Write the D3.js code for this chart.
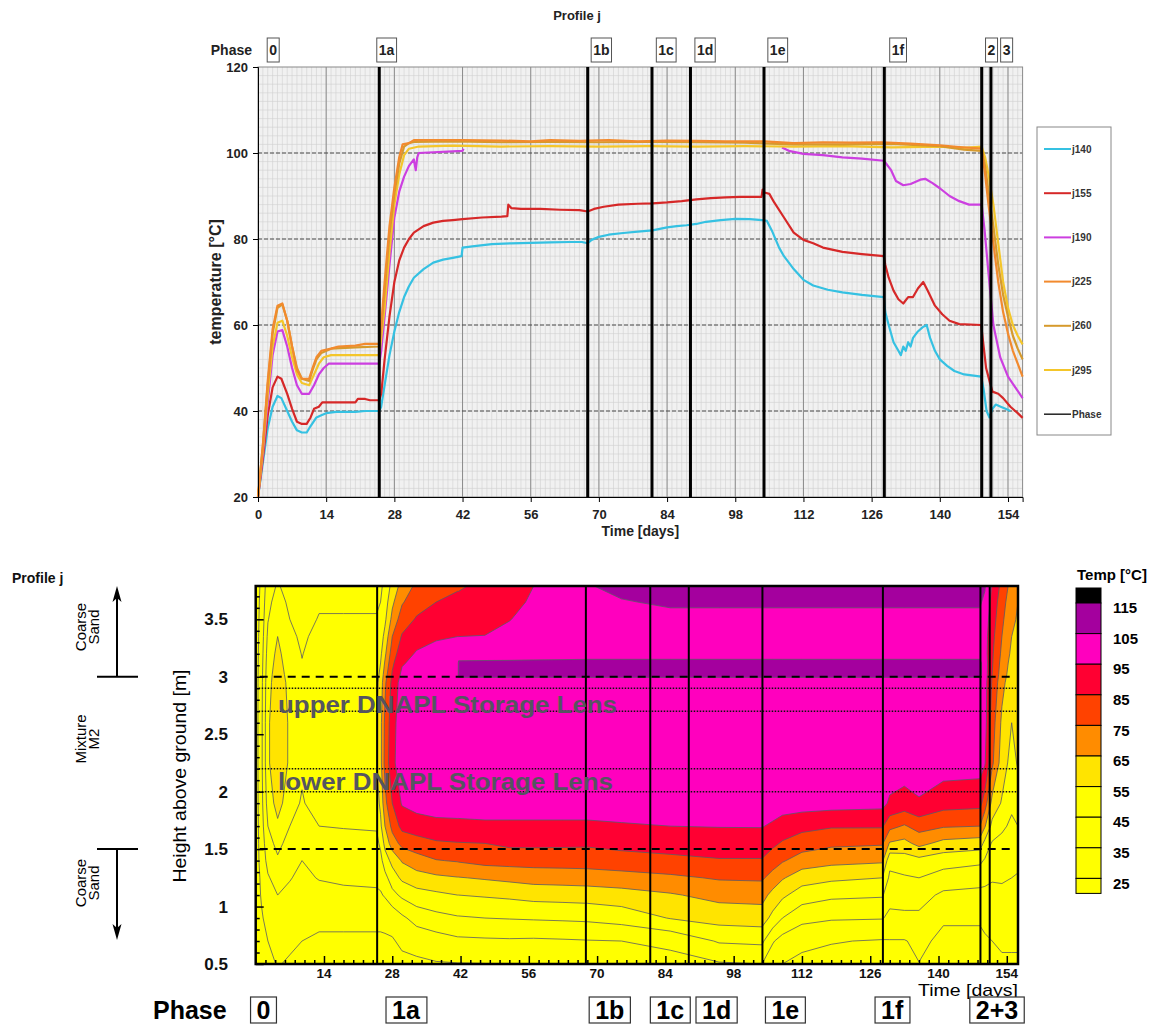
<!DOCTYPE html>
<html><head><meta charset="utf-8">
<script src="https://cdn.jsdelivr.net/npm/d3@7"></script>
<style>body{margin:0;background:#fff}svg{display:block}</style>
</head><body><svg id="c" width="1160" height="1024"></svg>
<script>
// ---------------- DATA ----------------
const phaseNames = ["0","1a","1b","1c","1d","1e","1f","2","3"];
const phaseDays = [0, 24.9, 67.7, 80.9, 88.8, 103.9, 128.6, 148.6, 150.5];
const topPhaseLabelDays = [3.1, 26.4, 70.5, 83.8, 91.8, 106.7, 131.4, 150.6, 153.7];
const bottomPhaseNames = ["0","1a","1b","1c","1d","1e","1f","2+3"];
const bottomPhaseLabelDays = [1.6, 30.8, 72.6, 85, 94.5, 108.6, 130.5, 152];

const timeTicks = [0,14,28,42,56,70,84,98,112,126,140,154];
const tempTicks = [20,40,60,80,100,120];
const heightTicks = [0.5,1,1.5,2,2.5,3,3.5];

const seriesNames = ["j140","j155","j190","j225","j260","j295"];
const j140 = [[0,20],[1,28],[2,36],[3,41],[4,43.5],[4.8,43],[6,40],[7,37.5],[8,35.5],[9,35],[10,35],[10.8,36.5],[12,38.5],[13,39],[14,39.5],[16,39.8],[20,39.8],[22,40],[24.9,40],[25.3,41],[26,46],[27,53],[28,58.5],[29,63],[30,66.5],[31,69],[32,71],[34,73],[36,74.5],[38,75.2],[40,75.6],[41.8,76],[42,78],[44,78.3],[48,78.8],[52,79],[56,79.1],[60,79.2],[64,79.3],[66.5,79.3],[67.7,79],[68.5,79.8],[70,80.5],[72,81],[75,81.4],[78,81.7],[81,82],[84,82.7],[86,83],[88,83.2],[90,83.5],[92,84],[95,84.4],[98,84.7],[101,84.6],[103.5,84.4],[104.5,84.2],[105.5,82],[107,78],[108,76],[110,73],[112,70.5],[114,69.2],[117,68.2],[120,67.6],[124,67],[128.5,66.5],[128.8,63],[129.5,60],[130.5,56],[131.5,54],[132,53],[132.5,55],[133,54],[133.5,56],[134,55],[134.5,57],[135.5,58.5],[136.5,59.5],[137.3,60],[138,57],[139,54],[140,52],[141.5,50.5],[143,49.3],[145,48.5],[148.5,48],[149,45],[149.6,40],[150.2,38.5],[150.8,40.5],[151.5,41.5],[152.5,41],[153.5,40.5],[154.5,40]];
const j155 = [[0,20],[1,29],[2,39],[3,45.5],[4,48],[4.8,47.5],[6,44],[7,40.5],[8,37.5],[9,37],[10,37],[10.8,38.5],[11.5,40.5],[12.5,41],[13.2,42],[16,42],[20,42],[20.5,42.8],[22,42.8],[23,42.5],[24.9,42.5],[25.3,44],[26,52],[27,62],[28,70],[29,75],[30,78],[31,80],[32,81.5],[34,83],[36,83.8],[38,84.2],[40,84.4],[42,84.6],[46,85],[50,85.2],[51.2,85.3],[51.4,88],[52,87.2],[54,87],[58,87],[62,86.8],[66,86.7],[67.7,86.4],[69,87],[71,87.5],[74,88],[78,88.2],[81,88.3],[84,88.5],[87,88.8],[90,89.2],[93,89.5],[96,89.7],[99,89.8],[102,89.8],[103.4,89.8],[103.6,91.5],[104,90.8],[105,90.5],[106,88.5],[108,85],[110,81.5],[112,79.8],[114,79],[116,78],[120,77],[124,76.5],[128.5,76],[128.8,74],[129.5,71],[130.5,68],[131.5,66],[132.5,65],[133.5,66.5],[134.5,66.5],[135.5,68.5],[136.6,70],[137.5,68],[139,64.5],[140.5,62.5],[142,61],[144,60.2],[148.5,60],[149,55],[149.5,50],[150.2,47],[150.8,44.5],[152,44],[153,43],[154.5,41],[156,39.5],[157,38.4]];
const j190 = [[0,20],[1,30],[2,42],[3,53],[4,58.5],[5,58.8],[6,55],[7,50],[8,46],[9,44],[10.5,44],[11.5,46],[12.5,48.5],[13.5,50],[14.5,51],[24.9,51],[25.3,54],[26,62],[27,74],[28,85],[29,91],[30,94.5],[31,97],[32,98.5],[32.4,96],[32.7,99],[33,100],[42,100.5],[42.2,101],[42.3,null],[107.5,null],[107.6,101.3],[109,100.5],[112,99.8],[116,99.5],[120,99],[124,98.7],[128.5,98.2],[129,97.5],[130,96],[131,93.5],[132.5,92.5],[134,92.8],[136,93.8],[137,94],[138.5,93],[140,91.8],[142,90],[144,88.8],[146,88],[148.6,88],[149.2,82],[150,72],[151,60],[152.4,52.5],[154,48],[155.5,45.5],[157,43]];
const j225 = [[0,20],[1,32],[2,47],[3,59],[4,64.5],[5,65],[6,61],[7,55],[8,49.5],[9,47.5],[10.5,47.5],[11.2,50],[12,52.5],[13,54],[15,54.5],[16.5,55],[20,55.2],[22,55.6],[24.9,55.6],[25.3,60],[26,70],[27,83],[28,92],[29,99],[29.7,102],[31,102.3],[32,103],[36,103],[42,103],[50,102.9],[56,102.7],[60,103],[66,102.8],[72,103],[78,102.7],[84,102.9],[90,102.8],[96,102.7],[104,102.7],[110,102.3],[116,102.5],[122,102.4],[128,102.5],[134,102.2],[140,101.8],[144,101.4],[148.6,101],[149.3,95],[150,88],[151,79],[152,70],[153,63],[154,58],[155,54],[156,51],[157,48]];
const j260 = [[0,20],[1,32],[2,46],[3,58],[4,64],[5,64.8],[6,61],[7,55],[8,50],[9,47.5],[10.5,47],[11.2,49.5],[12,52],[13,53.5],[15,54.5],[20,54.8],[24.9,55],[25.3,59],[26,68],[27,81],[28,90.5],[29,97.5],[30,101.5],[31,102.3],[32,102.6],[40,102.7],[50,102.5],[60,102.6],[70,102.5],[80,102.6],[90,102.5],[100,102.4],[110,102],[120,102],[130,102.1],[140,101.6],[145,100.8],[148.6,100.5],[149.3,97],[150,91],[151,83],[152,74],[153,67],[154,62],[155,57.5],[156,54.5],[157,52]];
const j295 = [[0,20],[1,31],[2,44],[3,55],[4,60.5],[5,61],[6,57.5],[7,52.5],[8,48.5],[9,46.5],[10.5,46],[11.5,48.5],[12.5,51],[13.5,52.5],[15,53],[24.9,53],[25.3,57],[26,64],[27,77],[28,88],[29,95],[30,99.5],[31,101],[33,101.5],[40,101.7],[50,101.5],[60,101.6],[70,101.5],[80,101.6],[90,101.5],[100,101.6],[110,101.5],[120,101.6],[130,101.3],[140,101.5],[145,101.2],[148.6,101.5],[149.3,99],[150,95],[151,88],[152,79],[153,70],[154,64],[155,60],[156,57.5],[157,55.5]];
const seriesValues = [j140, j155, j190, j225, j260, j295];
const seriesColors = ["#35c1e2","#d62828","#cc3fe0","#f28a2e","#d69a2c","#f4c62a"];

// contour grid: one temperature profile (over profileHeights) per profile time
const profileHeights = [0.5,0.7,0.9,1.1,1.25,1.4,1.55,1.7,1.9,2.25,2.6,2.95,3.02,3.12,3.2,3.35,3.5,3.65,3.79];
const profileTimes = [0,1.2,2.5,4.5,7,9.5,13,18,24.8,25.6,26.5,28,30,33,37,41.4,41.6,47,52,57,63,68,75,85,95,103.8,106,108,112,118,128.5,130,133,136,141,148.5,149.5,151,153,155,156.3];
const tempProfiles = [
 [20,20,20,20,20,20,20,20,20,20,20,20,20,20,20,20,20,20,20],
 [21,22,24,26,27,29,30,31,32,33,33,32.5,32,31.5,31,30,29,28,27],
 [23,25,28,31,34,38,41,45,49,53,53,51.5,51,50,49,47,44.5,42.5,40.5],
 [25.5,28,31,35,39,43.5,48,53,59,64.5,64.5,61,60,58.5,57.5,55,52,49,46],
 [24,26.5,29.5,33,35.5,38,41,45,49,53,53,52,51,50,49,47,45,43,41],
 [23,25,28,31,33,35,37,40,44,47,47,46,45.8,45.3,44.7,43.5,42,40.5,39],
 [22,24,26.5,32,35.5,39,41,45,50,54,54,52,51,50,49,47.5,45.5,44,42],
 [22,24,26.5,33,36.5,40,42,45.5,51,54.7,54.7,53,52,51,50,48,45.5,44,42.5],
 [22,24,26.5,33.5,37,40,42.5,46,51,54.8,54.8,53,52,51,50,48,45.5,44,42.5],
 [22,24,26.5,34,38,42,47,53,57,62,62,59,57,55,53,50,47,45,43],
 [22,24,27,36,42,50,58,65,72,78,77,73,70,66,63,58,53,50,48],
 [22,24.3,28,42,50,58,70,78,85,92,91,88,86,83,80,75,68,63,58],
 [23,26.5,33,47,57,66,78,88,96,102,101.5,99.5,97,94,91,86,80,74,69],
 [23.5,28,39,51,61,70.5,81,90,99,102.5,102.5,101,100,98,96,91,86,81,77],
 [24.3,30.5,42,53,63,74.5,83.7,92,100,103,103,101.5,101,99.5,98,94,90,85,80.5],
 [24.6,33,44,55,64.5,75.8,84.5,92.5,100,103,103,101.5,101.5,100,98.5,95,91,87,84],
 [24.6,33,44,55,64.5,76,84.5,92.5,100,103,103,101.5,107,107,98.5,95,91,87,84],
 [24.8,33.5,45,56,66,78.5,85,93,100.5,103,103,101.5,107,107,99.5,95.2,92.5,89.5,87],
 [25.3,33.8,45.5,57,67.5,79,87,93,100.5,103,103,101.5,107,107,100,97.5,94.7,92,90],
 [26,33.5,46,58.5,69,79.2,87,93,100.5,103,103,101.5,107,107,101,99.5,98,96.5,95],
 [27,34,46.5,59,69.5,79.3,86.8,93,100.5,103,103,101.5,107,107,101.5,101,101,100.5,100],
 [28,34.5,47,59.5,70,79.5,86.5,93,100.5,103,103,101.5,107,107,102,102,102.5,103,104.5],
 [30,35,49,61,71,81,88,94,100.5,103,103,101.5,107,107,102,102,103,104.5,107],
 [32,37,55.5,64,73,83,88.5,95,100.5,103,103,101.5,107,107,102,102,103,106,108.5],
 [34,46,59,68,76,84.5,88.5,95.5,100.5,103,103,101.5,107,107,102,102,103,106,109],
 [35,47,60,68.5,76.5,84.3,90,95.5,100.5,103,103,101.5,107,107,102,102,103,106,109],
 [28,36,52,62,71,80,87,93.5,100.5,102.8,103,101.5,107,107,102,102,103,106,109],
 [25,31,45,57,66,76,84,90.5,100,102.5,102.8,101.5,107,107,102,102,103,106,109],
 [23,27,38,50,59.5,70.5,79.8,88,99.5,102.3,102.5,101.5,107,107,102,102,103,106,108.5],
 [22,25.5,36,47,57,68,77,86,99,102,102.3,101.5,107,107,102,102,103,106,108.5],
 [21,24.3,35.5,46,55,66.5,76,86,98,101.5,102.2,101.5,107,107,102,102,103,106,108.5],
 [21,24.5,33,38,43,48,64,78,93.5,101,102,101.5,107,107,102,102,103,106,108.5],
 [22,24.5,33,39,44,50,62,74,91,100.5,102,101.5,107,107,102,102,103,106,108.5],
 [24.8,27,33,39,45,52,68,79,94,100.5,102,101.5,107,107,102,102,103,106,108.5],
 [21,23,26,33,41,49,62,76,89,100,101.8,101.5,107,107,102,102,103,106,108.5],
 [21,23,26,32,39,47,60,75,88,99.5,101.5,101.5,107,107,102,102,103,106,108],
 [22,24,27,32,38,44,52,66,80,96,99,99,100,100,99,99,100,103,106],
 [23,25,28,32,36,41,44,52,62,77,80,84,85,86,86.5,88,90,92,94],
 [24,26,29,33,36,40.5,42,47,54,60,63,68,70,71.5,73,75,77,79,82],
 [24,26,29,32,35,39,40,43,47,51.5,55,59,60,61.5,63,65,67,69,71],
 [24,26,28.5,31,34,37.5,40,45,51,56,58,60,61,61.5,62,63,64,65,66]
];
const bandThresholds = [25,35,45,55,65,75,85,95,105,115];
const bandColors = ["#ffff00","#ffff00","#ffff00","#ffe400","#ff8c00","#ff4200","#ff0032","#ff00be","#a4009e","#000000"];
const belowColor = "#ffff00";
const layerNames = ["Coarse\nSand","Mixture\nM2","Coarse\nSand"];
const layerBounds = [1.5, 3.0];
const lensBounds = [[2.7,2.9],[2.0,2.2]];
const lensNames = ["upper DNAPL Storage Lens","lower DNAPL Storage Lens"];

// ---------------- DRAW ----------------
const F = "'Liberation Sans', Arial, Helvetica, sans-serif";
const svg = d3.select("#c").style("font-family", F);

// ===== TOP CHART =====
const xT = d3.scaleLinear().domain([0,157]).range([258,1022.6]);
const yT = d3.scaleLinear().domain([20,120]).range([497,67]);
const T = svg.append("g");
T.append("rect").attr("x",xT(0)).attr("y",yT(120)).attr("width",xT(157)-xT(0)).attr("height",yT(20)-yT(120)).attr("fill","#f1f1f1");
T.append("g").selectAll("line").data(d3.range(1,157)).join("line")
 .attr("x1",d=>xT(d)).attr("x2",d=>xT(d)).attr("y1",yT(120)).attr("y2",yT(20))
 .attr("stroke","#d0d0d0").attr("stroke-width",0.6);
T.append("g").selectAll("line").data(d3.range(22,120,2)).join("line")
 .attr("x1",xT(0)).attr("x2",xT(157)).attr("y1",d=>yT(d)).attr("y2",d=>yT(d))
 .attr("stroke","#d0d0d0").attr("stroke-width",0.6);
T.append("g").selectAll("line").data(timeTicks.slice(1)).join("line")
 .attr("x1",d=>xT(d)).attr("x2",d=>xT(d)).attr("y1",yT(120)).attr("y2",yT(20))
 .attr("stroke","#8c8c8c").attr("stroke-width",1);
T.append("g").selectAll("line").data(tempTicks.slice(1,-1)).join("line")
 .attr("x1",xT(0)).attr("x2",xT(157)).attr("y1",d=>yT(d)).attr("y2",d=>yT(d))
 .attr("stroke","#4a4a4a").attr("stroke-width",1).attr("stroke-dasharray","4,2");
T.append("rect").attr("x",xT(0)).attr("y",yT(120)).attr("width",xT(157)-xT(0)).attr("height",yT(20)-yT(120)).attr("fill","none").attr("stroke","#8a8a8a");

const line = d3.line().defined(d=>d[1]!=null).x(d=>xT(d[0])).y(d=>yT(d[1]));
const drawOrder = [0,1,2,5,4,3];
drawOrder.forEach(i=>{
  T.append("path").datum(seriesValues[i]).attr("d",line).attr("fill","none")
   .attr("stroke",seriesColors[i]).attr("stroke-width",2.2).attr("stroke-linejoin","round");
});
T.append("g").selectAll("line").data(phaseDays.slice(1)).join("line")
 .attr("x1",d=>xT(d)).attr("x2",d=>xT(d)).attr("y1",yT(120)).attr("y2",yT(20))
 .attr("stroke","#000").attr("stroke-width",3);

const axL = T.append("g").attr("transform",`translate(${xT(0)},0)`)
 .call(d3.axisLeft(yT).tickValues(tempTicks).tickSize(5).tickPadding(5));
const axB = T.append("g").attr("transform",`translate(0,${yT(20)})`)
 .call(d3.axisBottom(xT).tickValues(timeTicks).tickSize(5));
[axL,axB].forEach(a=>{a.select(".domain").attr("stroke","#000");a.selectAll(".tick line").attr("stroke","#000");
 a.selectAll("text").attr("font-family",F).attr("font-size",13).attr("font-weight","bold").attr("fill","#222");});
axB.selectAll("text").attr("y",17).attr("dy","0.35em");

T.append("text").attr("transform",`translate(221,${(yT(20)+yT(120))/2}) rotate(-90)`)
 .attr("text-anchor","middle").attr("font-size",16).attr("font-weight","bold").attr("fill","#222").text("temperature [°C]");
T.append("text").attr("x",(xT(0)+xT(157))/2).attr("y",531).attr("dy","0.35em").attr("text-anchor","middle")
 .attr("font-size",14).attr("font-weight","bold").attr("fill","#222").text("Time [days]");
T.append("text").attr("x",577).attr("y",15).attr("dy","0.35em").attr("text-anchor","middle")
 .attr("font-size",13).attr("font-weight","bold").attr("fill","#222").text("Profile j");
T.append("text").attr("x",252).attr("y",50).attr("dy","0.35em").attr("text-anchor","end")
 .attr("font-size",14).attr("font-weight","bold").attr("fill","#222").text("Phase");

// top phase boxes
const tpb = T.append("g").selectAll("g").data(phaseNames).join("g");
tpb.each(function(n,i){
  const g = d3.select(this);
  const t = g.append("text").attr("x",xT(topPhaseLabelDays[i])).attr("y",50).attr("dy","0.36em")
   .attr("text-anchor","middle").attr("font-size",14).attr("font-weight","bold").attr("fill","#222").text(n);
  const bb = t.node().getBBox();
  g.insert("rect","text").attr("x",bb.x-2).attr("y",38).attr("width",bb.width+4).attr("height",24)
   .attr("fill","#fff").attr("stroke","#555").attr("stroke-width",1);
});

// legend
const lg = T.append("g");
lg.append("rect").attr("x",1037).attr("y",127).attr("width",74).attr("height",308).attr("fill","#fff").attr("stroke","#888");
const legNames = seriesNames.concat(["Phase"]);
const legColors = seriesColors.concat(["#222"]);
legNames.forEach((n,i)=>{
  const y = 149 + i*44.2;
  lg.append("line").attr("x1",1044).attr("x2",1071).attr("y1",y).attr("y2",y).attr("stroke",legColors[i]).attr("stroke-width",i===6?1.5:2);
  lg.append("text").attr("x",1072).attr("y",y).attr("dy","0.35em").attr("font-size",10).attr("font-weight","bold").attr("fill","#333").text(n);
});

// ===== BOTTOM CHART =====
const xB = d3.scaleLinear().domain([0,156.3]).range([255.7,1018]);
const yB = d3.scaleLinear().domain([0.5,3.79]).range([964,586]);
const B = svg.append("g");
svg.append("defs").append("clipPath").attr("id","clipB").append("rect")
 .attr("x",xB(0)).attr("y",yB(3.79)).attr("width",xB(156.3)-xB(0)).attr("height",yB(0.5)-yB(3.79));
const P = B.append("g").attr("clip-path","url(#clipB)");
P.append("rect").attr("x",xB(0)).attr("y",yB(3.79)).attr("width",xB(156.3)-xB(0)).attr("height",yB(0.5)-yB(3.79)).attr("fill",belowColor);

const nx = profileTimes.length, ny = profileHeights.length;
const grid = new Array(nx*ny);
for (let j=0;j<ny;j++) for (let i=0;i<nx;i++) grid[i+j*nx] = tempProfiles[i][j];
const idxT = d3.scaleLinear().domain(d3.range(nx)).range(profileTimes);
const idxH = d3.scaleLinear().domain(d3.range(ny)).range(profileHeights);
const proj = d3.geoTransform({point(x,y){
  const gx = Math.max(0,Math.min(nx-1,x-0.5)), gy = Math.max(0,Math.min(ny-1,y-0.5));
  this.stream.point(xB(idxT(gx)), yB(idxH(gy)));
}});
const gpath = d3.geoPath(proj);
const conts = d3.contours().size([nx,ny]).thresholds(bandThresholds)(grid);
P.append("g").selectAll("path").data(conts).join("path").attr("d",gpath)
 .attr("fill",(d,i)=>bandColors[i]).attr("stroke","none");
P.append("g").selectAll("path").data(conts).join("path").attr("d",gpath)
 .attr("fill","none").attr("stroke","#5a5a66").attr("stroke-width",0.8);

// lens dotted lines
lensBounds.flat().forEach(h=>{
  P.append("line").attr("x1",xB(0)).attr("x2",xB(156.3)).attr("y1",yB(h)).attr("y2",yB(h))
   .attr("stroke","#111").attr("stroke-width",1.5).attr("stroke-dasharray","1.5,1.5");
});
// layer dashed lines
layerBounds.forEach(h=>{
  P.append("line").attr("x1",xB(0)+4).attr("x2",xB(154.6)).attr("y1",yB(h)).attr("y2",yB(h))
   .attr("stroke","#000").attr("stroke-width",2).attr("stroke-dasharray","8,6");
});
// phase lines
P.append("g").selectAll("line").data(phaseDays.slice(1)).join("line")
 .attr("x1",d=>xB(d)).attr("x2",d=>xB(d)).attr("y1",yB(3.79)).attr("y2",yB(0.5))
 .attr("stroke","#000").attr("stroke-width",2);
// lens labels
lensNames.forEach((n,i)=>{
  P.append("text").attr("x",278).attr("y",yB(lensBounds[i][0])+ (i===0?2:-2)).attr("font-size",23).attr("font-weight","bold")
   .attr("fill","#555560").attr("textLength",i===0?339:335).attr("lengthAdjust","spacingAndGlyphs").text(n);
});

// ticks (inward)
B.append("g").attr("transform",`translate(0,${yB(0.5)})`)
 .call(d3.axisBottom(xB).tickValues(d3.range(2,156,2).filter(d=>d%14!==0)).tickSize(-4).tickFormat(""))
 .call(g=>{g.select(".domain").remove();g.selectAll("line").attr("stroke","#000").attr("stroke-width",1.5);});
B.append("g").attr("transform",`translate(0,${yB(0.5)})`)
 .call(d3.axisBottom(xB).tickValues(timeTicks.slice(1)).tickSize(-8).tickFormat(""))
 .call(g=>{g.select(".domain").remove();g.selectAll("line").attr("stroke","#000").attr("stroke-width",1.5);});
B.append("g").attr("transform",`translate(${xB(0)},0)`)
 .call(d3.axisLeft(yB).tickValues(d3.range(6,38).map(d=>d/10).filter(d=>Math.abs(d*2-Math.round(d*2))>0.01)).tickSize(-4).tickFormat(""))
 .call(g=>{g.select(".domain").remove();g.selectAll("line").attr("stroke","#000").attr("stroke-width",1.5);});
B.append("g").attr("transform",`translate(${xB(0)},0)`)
 .call(d3.axisLeft(yB).tickValues(heightTicks).tickSize(-8).tickFormat(""))
 .call(g=>{g.select(".domain").remove();g.selectAll("line").attr("stroke","#000").attr("stroke-width",1.5);});
B.append("rect").attr("x",xB(0)).attr("y",yB(3.79)).attr("width",xB(156.3)-xB(0)).attr("height",yB(0.5)-yB(3.79))
 .attr("fill","none").attr("stroke","#000").attr("stroke-width",2.5);

// tick labels
B.append("g").selectAll("text").data(timeTicks.slice(1)).join("text")
 .attr("x",d=>xB(d)).attr("y",973).attr("dy","0.35em").attr("text-anchor","middle")
 .attr("font-size",13.5).attr("font-weight","bold").attr("fill","#111").text(d=>d);
B.append("g").selectAll("text").data(heightTicks).join("text")
 .attr("x",228).attr("y",d=>yB(d)).attr("dy","0.35em").attr("text-anchor","end")
 .attr("font-size",17).attr("font-weight","bold").attr("fill","#111").text(d=>d);
B.append("text").attr("x",968).attr("y",990).attr("dy","0.35em").attr("text-anchor","middle")
 .attr("font-size",17).attr("fill","#000").attr("textLength",100).attr("lengthAdjust","spacingAndGlyphs").text("Time [days]");
B.append("text").attr("transform",`translate(186,776) rotate(-90)`).attr("text-anchor","middle")
 .attr("font-size",19).attr("fill","#000").attr("textLength",213).attr("lengthAdjust","spacingAndGlyphs").text("Height above ground [m]");
B.append("text").attr("x",12).attr("y",578).attr("dy","0.35em").attr("font-size",14).attr("font-weight","bold").attr("fill","#111").text("Profile j");

// layer annotation
const layerCenters = [627, 739, 883];
layerNames.forEach((n,i)=>{
  const g = B.append("g").attr("transform",`translate(0,${layerCenters[i]}) rotate(-90)`);
  n.split("\n").forEach((s,k)=>{
    g.append("text").attr("x",0).attr("y",86+k*13).attr("text-anchor","middle").attr("font-size",15).attr("fill","#000").text(s);
  });
});
layerBounds.forEach(h=>{
  B.append("line").attr("x1",97).attr("x2",138).attr("y1",yB(h)).attr("y2",yB(h)).attr("stroke","#000").attr("stroke-width",2);
});
B.append("line").attr("x1",117).attr("x2",117).attr("y1",yB(3.0)).attr("y2",yB(3.79)+6).attr("stroke","#000").attr("stroke-width",2);
B.append("line").attr("x1",117).attr("x2",117).attr("y1",yB(1.5)).attr("y2",934).attr("stroke","#000").attr("stroke-width",2);
B.append("path").attr("d",`M117,${yB(3.79)} L112.5,${yB(3.79)+16} L117,${yB(3.79)+12} L121.5,${yB(3.79)+16} Z`).attr("fill","#000");
B.append("path").attr("d",`M117,940 L112.5,924 L117,928 L121.5,924 Z`).attr("fill","#000");

// bottom phase labels
B.append("text").attr("x",153).attr("y",1010).attr("dy","0.35em").attr("font-size",25).attr("font-weight","bold").attr("fill","#000").text("Phase");
bottomPhaseNames.forEach((n,i)=>{
  const g = B.append("g");
  const t = g.append("text").attr("x",xB(bottomPhaseLabelDays[i])).attr("y",1010).attr("dy","0.36em")
   .attr("text-anchor","middle").attr("font-size",25).attr("font-weight","bold").attr("fill","#000").text(n);
  const bb = t.node().getBBox();
  g.insert("rect","text").attr("x",bb.x-6).attr("y",997).attr("width",bb.width+12).attr("height",26)
   .attr("fill","#fff").attr("stroke","#333").attr("stroke-width",1.2);
});

// colorbar
const cb = B.append("g");
const cbTop = 588, cbStep = 30.6, cbX = 1076, cbW = 25;
cb.append("text").attr("x",1077).attr("y",575).attr("dy","0.35em").attr("font-size",15).attr("font-weight","bold").attr("fill","#000").text("Temp [°C]");
const cbColors = bandColors.slice().reverse().concat([belowColor]);
cbColors.forEach((c,k)=>{
  const y0 = k===0 ? cbTop : cbTop+15+(k-1)*cbStep;
  const h = (k===0 || k===cbColors.length-1) ? 15 : cbStep;
  cb.append("rect").attr("x",cbX).attr("y",y0).attr("width",cbW).attr("height",h).attr("fill",c).attr("stroke","#000").attr("stroke-width",1);
});
bandThresholds.slice().reverse().forEach((v,k)=>{
  cb.append("text").attr("x",1113).attr("y",cbTop+15+k*cbStep+5).attr("dy","0.35em").attr("font-size",15)
   .attr("font-weight","bold").attr("fill","#000").text(v);
});
</script></body></html>
